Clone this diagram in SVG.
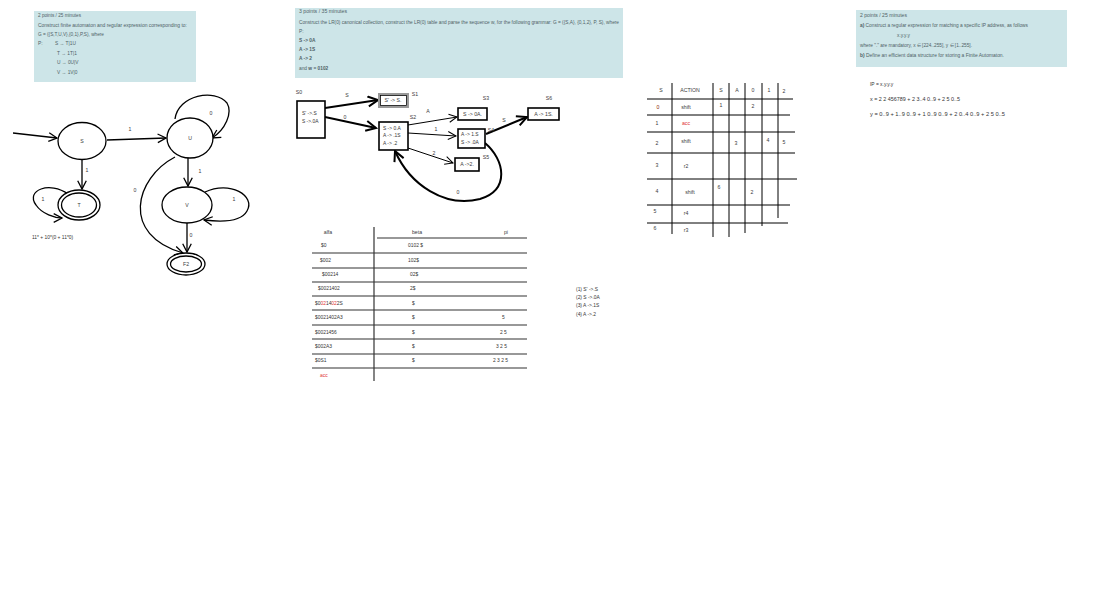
<svg xmlns="http://www.w3.org/2000/svg" width="1116" height="593" viewBox="0 0 1116 593">
<style>
.t{font-family:"Liberation Sans",Arial,sans-serif;font-size:4.9px;fill:#333}
.bx{fill:#cde5e8}
.q{font-family:"Liberation Sans",Arial,sans-serif;font-size:4.8px;fill:#4f6266}
.b{font-weight:bold}
.n{fill:#fff;stroke:#000;stroke-width:1.3}
.lb{font-family:"Liberation Sans",Arial,sans-serif;font-size:5.2px;fill:#3a3a3a;text-anchor:middle}
.e{fill:none;stroke:#000;stroke-width:1.3}
.ek{fill:none;stroke:#000;stroke-width:2}
.et{fill:none;stroke:#000;stroke-width:1}
.rect{fill:#fff;stroke:#000;stroke-width:1.6}
.tl{stroke:#333;stroke-width:1.2}
.gl{stroke:#000;stroke-width:1}
.red{fill:#e03030}
</style>
<defs>
<marker id="a" markerUnits="userSpaceOnUse" markerWidth="11" markerHeight="11" refX="9" refY="5" orient="auto"><path d="M0.7,0.7 L9,5 L0.7,9.3" fill="none" stroke="#000" stroke-width="1.3"/></marker>
<marker id="ak" markerUnits="userSpaceOnUse" markerWidth="14" markerHeight="14" refX="11" refY="6" orient="auto"><path d="M1,1 L11,6 L1,11" fill="none" stroke="#000" stroke-width="2"/></marker>
<marker id="at" markerUnits="userSpaceOnUse" markerWidth="11" markerHeight="11" refX="9" refY="5" orient="auto"><path d="M1,1 L9,5 L1,9" fill="none" stroke="#000" stroke-width="1"/></marker>
</defs>
<rect width="1116" height="593" fill="#fff"/>

<!-- Task 1 box -->
<g id="task1">
<rect class="bx" x="34" y="11" width="162" height="71"/>
<text class="q" x="38" y="17" textLength="43" lengthAdjust="spacingAndGlyphs">2 points / 25 minutes</text>
<text class="q" x="38" y="27" textLength="149" lengthAdjust="spacingAndGlyphs">Construct finite automaton and regular expression corresponding to:</text>
<text class="q" x="38" y="36" textLength="66" lengthAdjust="spacingAndGlyphs">G = ({S,T,U,V},{0,1},P,S), where</text>
<text class="q" x="38" y="45">P:</text>
<text class="q" x="55" y="45">S → T|1U</text>
<text class="q" x="57" y="55">T → 1T|1</text>
<text class="q" x="57" y="64">U → 0U|V</text>
<text class="q" x="57" y="74">V → 1V|0</text>
</g>

<!-- Automaton -->
<g id="fa-edges">
<path class="e" d="M13,133 L57,138" marker-end="url(#a)"/>
<path class="e" d="M107,140 L166,138" marker-end="url(#a)"/>
<path class="e" d="M175,119 C178,95 215,88 227,103 C233,113 225,130 212,138" marker-end="url(#a)"/>
<path class="e" d="M188,158 L188,186" marker-end="url(#a)"/>
<path class="e" d="M205,192 C230,180 256,196 247,211 C241,222 220,222 204,220" marker-end="url(#a)"/>
<path class="e" d="M187,223 L187,252" marker-end="url(#a)"/>
<path class="e" d="M175,157 C135,178 120,235 183,253" marker-end="url(#a)"/>
<path class="e" d="M82,160 L82,189" marker-end="url(#a)"/>
<path class="e" d="M68,194 C50,181 25,190 36,205 C42,214 55,218 62,218" marker-end="url(#a)"/>
<text class="lb" x="130" y="131">1</text>
<text class="lb" x="211" y="115">0</text>
<text class="lb" x="200" y="173">1</text>
<text class="lb" x="234" y="201">1</text>
<text class="lb" x="191" y="237">0</text>
<text class="lb" x="135" y="192">0</text>
<text class="lb" x="87" y="172">1</text>
<text class="lb" x="43" y="201">1</text>
</g>
<g id="S"><ellipse class="n" cx="82" cy="141" rx="24" ry="18.5"/><text class="lb" x="82" y="143">S</text></g>
<g id="U"><ellipse class="n" cx="190" cy="138" rx="23" ry="20"/><text class="lb" x="190" y="140">U</text></g>
<g id="V"><ellipse class="n" cx="187" cy="205" rx="25" ry="18"/><text class="lb" x="187" y="207">V</text></g>
<g id="T"><ellipse class="n" cx="79" cy="205" rx="21" ry="15"/><ellipse class="n" cx="79" cy="205" rx="17.5" ry="12"/><text class="lb" x="79" y="207">T</text></g>
<g id="F2"><ellipse class="n" cx="186" cy="264" rx="19" ry="11"/><ellipse class="n" cx="186" cy="264" rx="15.5" ry="8"/><text class="lb" x="186" y="266">F2</text></g>
<text class="t" x="32" y="239">11* + 10*(0 + 11*0)</text>

<!-- Task 2 box -->
<g id="task2">
<rect class="bx" x="295" y="8" width="328" height="70"/>
<text class="q" x="299" y="13" textLength="48" lengthAdjust="spacingAndGlyphs">3 points / 35 minutes</text>
<text class="q" x="299" y="24" textLength="320" lengthAdjust="spacingAndGlyphs">Construct the LR(0) canonical collection, construct the LR(0) table and parse the sequence w, for the following grammar: G = ({S,A}, {0,1,2}, P, S), where</text>
<text class="q" x="299" y="33">P:</text>
<text class="q b" x="299" y="42">S -&gt; 0A</text>
<text class="q b" x="299" y="51">A -&gt; 1S</text>
<text class="q b" x="299" y="60">A -&gt; 2</text>
<text class="q" x="299" y="70">and <tspan class="b">w = 0102</tspan></text>
</g>

<!-- LR(0) collection -->
<g id="lr-edges">
<path class="ek" d="M325,108 L378,100" marker-end="url(#ak)"/>
<path class="ek" d="M325,117 L376,128" marker-end="url(#ak)"/>
<path class="et" d="M408,125 L457,117" marker-end="url(#at)"/>
<path class="et" d="M408,133 L456,136" marker-end="url(#at)"/>
<path class="et" d="M408,148 L453,163" marker-end="url(#at)"/>
<path class="ek" d="M486,134 L527,117" marker-end="url(#ak)"/>
<path class="ek" d="M485,143 C505,160 510,190 480,199 C445,208 410,185 395,151" marker-end="url(#ak)"/>
<text class="lb" x="347" y="97">S</text>
<text class="lb" x="345" y="119">0</text>
<text class="lb" x="428" y="113">A</text>
<text class="lb" x="436" y="131">1</text>
<text class="lb" x="434" y="155">2</text>
<text class="lb" x="504" y="122">S</text>
<text class="lb" x="458" y="194">0</text>
</g>
<g id="S0"><rect class="rect" x="297" y="101" width="28" height="37"/><text class="t" x="302" y="115">S' -&gt;.S</text><text class="t" x="302" y="123">S -&gt;.0A</text><text class="lb" x="299" y="94">S0</text></g>
<g id="S1"><rect x="379" y="94" width="29" height="13" fill="#fff" stroke="#999" stroke-width="2"/><rect x="380.5" y="95.5" width="26" height="10" fill="none" stroke="#000" stroke-width="0.8"/><text class="lb" x="393" y="102">S' -&gt; S.</text><text class="lb" x="415" y="96">S1</text></g>
<g id="S2"><rect class="rect" x="379" y="122" width="29" height="28"/><text class="t" x="383" y="130">S -&gt; 0.A</text><text class="t" x="383" y="137">A -&gt; .1S</text><text class="t" x="383" y="145">A -&gt; .2</text><text class="lb" x="413" y="119">S2</text></g>
<g id="S3"><rect class="rect" x="458" y="108" width="29" height="12"/><text class="lb" x="472.5" y="116">S -&gt; 0A.</text><text class="lb" x="486" y="100">S3</text></g>
<g id="S4"><rect class="rect" x="458" y="129" width="27" height="19"/><text class="t" x="461" y="136">A -&gt; 1.S</text><text class="t" x="461" y="144">S -&gt; .0A</text><text class="lb" x="491" y="132">S4</text></g>
<g id="S5"><rect class="rect" x="455" y="158" width="24" height="13"/><text class="lb" x="467" y="166">A -&gt;2.</text><text class="lb" x="486" y="159">S5</text></g>
<g id="S6"><rect class="rect" x="528" y="108" width="31" height="12"/><text class="lb" x="543.5" y="116">A -&gt; 1S.</text><text class="lb" x="549" y="100">S6</text></g>

<!-- Parse table -->
<g id="parse">
<line class="tl" x1="374" y1="227" x2="374" y2="381"/>
<line class="tl" x1="377" y1="238" x2="527" y2="238"/>
<line class="tl" x1="312" y1="253" x2="527" y2="253"/>
<line class="tl" x1="312" y1="268" x2="527" y2="268"/>
<line class="tl" x1="312" y1="282" x2="527" y2="282"/>
<line class="tl" x1="312" y1="296" x2="527" y2="296"/>
<line class="tl" x1="312" y1="310" x2="527" y2="310"/>
<line class="tl" x1="312" y1="325" x2="527" y2="325"/>
<line class="tl" x1="312" y1="339" x2="527" y2="339"/>
<line class="tl" x1="312" y1="354" x2="527" y2="354"/>
<line class="tl" x1="312" y1="368" x2="527" y2="368"/>
<text class="lb" x="328" y="234">alfa</text>
<text class="lb" x="417" y="234">beta</text>
<text class="lb" x="506" y="234">pi</text>
<text class="t" x="321" y="247">$0</text><text class="t" x="408" y="247">0102 $</text>
<text class="t" x="320" y="262">$002</text><text class="t" x="408" y="262">102$</text>
<text class="t" x="322" y="276">$00214</text><text class="t" x="410" y="276">02$</text>
<text class="t" x="318" y="290">$0021402</text><text class="t" x="410" y="290">2$</text>
<text class="t" x="315" y="305">$0<tspan class="red">02</tspan>14<tspan class="red">02</tspan>2S</text><text class="t" x="412" y="305">$</text>
<text class="t" x="315" y="319">$0021402A3</text><text class="t" x="412" y="319">$</text><text class="t" x="502" y="319">5</text>
<text class="t" x="315" y="334">$0021456</text><text class="t" x="412" y="334">$</text><text class="t" x="500" y="334">2 5</text>
<text class="t" x="315" y="348">$002A3</text><text class="t" x="412" y="348">$</text><text class="t" x="496" y="348">3 2 5</text>
<text class="t" x="315" y="362">$0S1</text><text class="t" x="412" y="362">$</text><text class="t" x="493" y="362">2 3 2 5</text>
<text class="t red" x="320" y="377">acc</text>
</g>

<!-- Productions -->
<g id="rules">
<text class="t" x="576" y="291">(1) S' -&gt;.S</text>
<text class="t" x="576" y="299">(2) S -&gt;.0A</text>
<text class="t" x="576" y="307">(3) A -&gt;.1S</text>
<text class="t" x="576" y="316">(4) A -&gt;.2</text>
</g>

<!-- LR table -->
<g id="lrtable">
<line class="gl" x1="672" y1="83" x2="672" y2="234"/>
<line class="gl" x1="713" y1="83" x2="713" y2="237"/>
<line class="gl" x1="729" y1="83" x2="729" y2="237"/>
<line class="gl" x1="745" y1="83" x2="745" y2="233"/>
<line class="gl" x1="762" y1="83" x2="762" y2="226"/>
<line class="gl" x1="778" y1="83" x2="778" y2="218"/>
<line class="gl" x1="647" y1="99" x2="793" y2="99"/>
<line class="gl" x1="647" y1="115" x2="790" y2="115"/>
<line class="gl" x1="647" y1="132" x2="795" y2="132"/>
<line class="gl" x1="647" y1="153" x2="795" y2="153"/>
<line class="gl" x1="647" y1="179" x2="797" y2="179"/>
<line class="gl" x1="647" y1="205" x2="790" y2="205"/>
<line class="gl" x1="647" y1="223" x2="788" y2="223"/>
<text class="lb" x="661" y="92">S</text>
<text class="lb" x="690" y="92">ACTION</text>
<text class="lb" x="721" y="92">S</text>
<text class="lb" x="737" y="92">A</text>
<text class="lb" x="753" y="92">0</text>
<text class="lb" x="769" y="92">1</text>
<text class="lb" x="784" y="93">2</text>
<text class="lb" style="fill:#8a2a00" x="658" y="109">0</text><text class="lb" x="686" y="109">shift</text><text class="lb" x="721" y="107">1</text><text class="lb" x="753" y="108">2</text>
<text class="lb" x="657" y="125">1</text><text class="lb red" x="686" y="125">acc</text>
<text class="lb" x="657" y="145">2</text><text class="lb" x="686" y="143">shift</text><text class="lb" x="736" y="145">3</text><text class="lb" x="768" y="142">4</text><text class="lb" x="784" y="144">5</text>
<text class="lb" x="657" y="167">3</text><text class="lb" x="686" y="168">r2</text>
<text class="lb" x="657" y="193">4</text><text class="lb" x="690" y="194">shift</text><text class="lb" x="719" y="189">6</text><text class="lb" x="752" y="194">2</text>
<text class="lb" x="655" y="213">5</text><text class="lb" x="686" y="215">r4</text>
<text class="lb" x="655" y="230">6</text><text class="lb" x="686" y="232">r3</text>
</g>

<!-- Task 3 box -->
<g id="task3">
<rect class="bx" x="856" y="10" width="211" height="57"/>
<text class="q" x="860" y="17" textLength="47" lengthAdjust="spacingAndGlyphs">2 points / 25 minutes</text>
<text class="q" x="860" y="27" textLength="168" lengthAdjust="spacingAndGlyphs"><tspan class="b">a)</tspan> Construct a regular expression for matching a specific IP address, as follows</text>
<text class="q" x="897" y="37">x.y.y.y</text>
<text class="q" x="860" y="47" textLength="112" lengthAdjust="spacingAndGlyphs">where "." are mandatory, x ∈ [224..255], y ∈ [1..255].</text>
<text class="q" x="860" y="57" textLength="144" lengthAdjust="spacingAndGlyphs"><tspan class="b">b)</tspan> Define an efficient data structure for storing a Finite Automaton.</text>
</g>
<g id="answer3">
<text class="t" x="870" y="86">IP = x.y.y.y</text>
<text class="t" x="870" y="101" textLength="90" lengthAdjust="spacingAndGlyphs">x = 2 2 456789 + 2 3..4 0..9 + 2 5 0..5</text>
<text class="t" x="870" y="116" textLength="135" lengthAdjust="spacingAndGlyphs">y = 0..9 + 1..9 0..9 + 1 0..9 0..9 + 2 0..4 0..9 + 2 5 0..5</text>
</g>
</svg>
